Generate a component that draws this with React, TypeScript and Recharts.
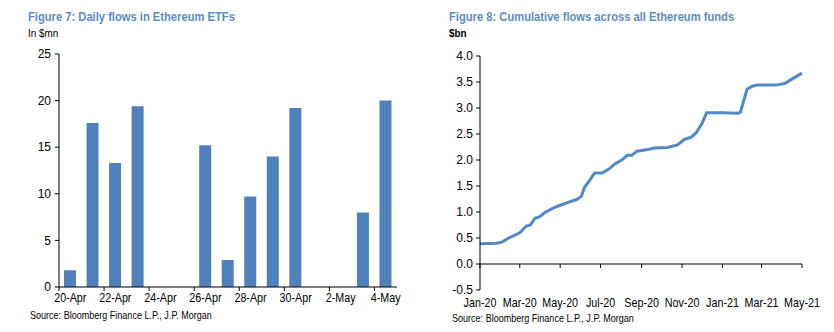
import React from 'react';
import { BarChart, Bar, XAxis, YAxis, LineChart, Line, ReferenceLine } from 'recharts';

// ---------- Figure 7 data ----------
const dailyDates = ['20-Apr', '21-Apr', '22-Apr', '23-Apr', '24-Apr', '25-Apr', '26-Apr', '27-Apr', '28-Apr', '29-Apr', '30-Apr', '1-May', '2-May', '3-May', '4-May'];
const dailyFlows: (number | null)[] = [1.8, 17.6, 13.3, 19.4, null, null, 15.2, 2.9, 9.7, 14.0, 19.2, null, null, 8.0, 20.0];
const dailyTicks = [0, 5, 10, 15, 20, 25];

// ---------- Figure 8 data ----------
const cumDates = [
  '2020-01-01', '2020-01-26', '2020-02-03', '2020-02-15', '2020-03-01', '2020-03-11', '2020-03-17', '2020-03-24', '2020-03-30',
  '2020-04-08', '2020-04-21', '2020-05-01', '2020-05-16', '2020-05-26', '2020-06-02', '2020-06-07', '2020-06-15', '2020-06-22',
  '2020-07-03', '2020-07-13', '2020-07-23', '2020-08-02', '2020-08-10', '2020-08-17', '2020-08-25', '2020-09-10', '2020-09-20',
  '2020-10-10', '2020-10-25', '2020-11-05', '2020-11-15', '2020-11-22', '2020-12-01', '2020-12-08', '2021-01-01', '2021-01-25',
  '2021-01-28', '2021-02-07', '2021-02-15', '2021-02-23', '2021-03-22', '2021-04-05', '2021-04-15', '2021-05-01',
];
const cumFlows = [
  0.39, 0.40, 0.42, 0.51, 0.60, 0.73, 0.75, 0.88, 0.90,
  0.99, 1.08, 1.13, 1.20, 1.24, 1.30, 1.48, 1.62, 1.75,
  1.75, 1.82, 1.93, 2.00, 2.09, 2.09, 2.17, 2.20, 2.23,
  2.24, 2.29, 2.40, 2.44, 2.52, 2.70, 2.91, 2.91, 2.90,
  2.92, 3.36, 3.42, 3.44, 3.44, 3.47, 3.55, 3.67,
];
const cumTickDates = ['2020-01-01', '2020-03-01', '2020-05-01', '2020-07-01', '2020-09-01', '2020-11-01', '2021-01-01', '2021-03-01', '2021-05-01'];
const cumTickLabels = ['Jan-20', 'Mar-20', 'May-20', 'Jul-20', 'Sep-20', 'Nov-20', 'Jan-21', 'Mar-21', 'May-21'];
const cumYTicks = [-0.5, 0, 0.5, 1, 1.5, 2, 2.5, 3, 3.5, 4];

const FONT = "'Liberation Sans Narrow', 'Arial Narrow', 'Liberation Sans', Arial, sans-serif";
const TITLE_COLOR = '#5b8cc3';
const BAR_COLOR = '#4f81bd';
const LINE_COLOR = '#5288c4';
const NARROW = 0.86;

const dailyData = dailyDates.map((d, i) => ({ d, v: dailyFlows[i] }));
const cumData = cumDates.map((d, i) => ({ t: Date.parse(d), v: cumFlows[i] }));
const cumTicks = cumTickDates.map((d) => Date.parse(d));
const cumLabel = (t: number) => cumTickLabels[cumTicks.indexOf(t)] ?? '';

// left chart geometry
const L_W = 420, L_H = 332;
const L_MARGIN = { top: 54, right: 23, bottom: 25, left: 29 };
const L_YW = 30;
const L_PLOT_W = L_W - L_MARGIN.left - L_MARGIN.right - L_YW;

// right chart geometry
const R_W = 414, R_H = 332;
const R_MARGIN = { top: 56, right: 32, bottom: 22, left: 30 };
const R_YW = 30;
const R_XH = 20;
const R_PLOT_H = R_H - R_MARGIN.top - R_MARGIN.bottom - R_XH;
const R_DOMAIN: [number, number] = [-0.5, 4];

const NarrowText = ({ x, y, children }: { x: number; y: number; children: React.ReactNode }) => (
  <g transform={`translate(${x},${y}) scale(${NARROW},1)`}>
    <text x={0} y={0} textAnchor="middle" fontSize={12.5} fontFamily={FONT} fill="#000">
      {children}
    </text>
  </g>
);

const BarTick = (props: any) => {
  const { x, y, payload } = props;
  const half = L_PLOT_W / dailyDates.length / 2;
  return (
    <g>
      <line x1={x - half} x2={x - half} y1={y - 4} y2={y} stroke="#000" strokeWidth={1} />
      <NarrowText x={x} y={y + 11}>{payload.value}</NarrowText>
    </g>
  );
};

const LineTick = (props: any) => {
  const { x, y, payload } = props;
  const plotBottom = R_MARGIN.top + R_PLOT_H;
  const zeroY = plotBottom - ((0 - R_DOMAIN[0]) / (R_DOMAIN[1] - R_DOMAIN[0])) * R_PLOT_H;
  return (
    <g>
      <line x1={x} x2={x} y1={zeroY} y2={zeroY + 4} stroke="#000" strokeWidth={1} />
      <NarrowText x={x} y={y + 11}>{cumLabel(payload.value)}</NarrowText>
    </g>
  );
};

const txt = (extra: React.CSSProperties): React.CSSProperties => ({
  position: 'absolute',
  fontFamily: FONT,
  whiteSpace: 'nowrap',
  lineHeight: 1,
  transform: `scaleX(${NARROW})`,
  transformOrigin: 'left top',
  ...extra,
});

export default function App() {
  return (
    <div style={{ position: 'absolute', left: 0, top: 0, width: 834, height: 332, background: '#fff', overflow: 'hidden' }}>
      {/* Left panel */}
      <div style={{ position: 'absolute', left: 0, top: 0, width: L_W, height: L_H }}>
        <BarChart width={L_W} height={L_H} data={dailyData} margin={L_MARGIN} barCategoryGap={0}>
          <XAxis
            dataKey="d"
            interval={1}
            tick={<BarTick />}
            tickLine={false}
            tickSize={4}
            tickMargin={0}
            height={20}
            axisLine={{ stroke: '#000', strokeWidth: 1 }}
          />
          <YAxis
            domain={[0, 25]}
            ticks={dailyTicks}
            width={L_YW}
            tickSize={4}
            tickMargin={4}
            axisLine={{ stroke: '#000', strokeWidth: 1 }}
            tickLine={{ stroke: '#000' }}
            tick={{ fontSize: 12, fontFamily: FONT, fill: '#000' }}
          />
          <Bar dataKey="v" fill={BAR_COLOR} barSize={12} isAnimationActive={false} />
        </BarChart>
        <div style={txt({ left: 28, top: 10, fontSize: 13, fontWeight: 'bold', color: TITLE_COLOR })}>
          Figure 7: Daily flows in Ethereum ETFs
        </div>
        <div style={txt({ left: 28, top: 28, fontSize: 11.5, color: '#000' })}>In $mn</div>
        <div style={txt({ left: 30, top: 310, fontSize: 10.5, color: '#000' })}>Source: Bloomberg Finance L.P., J.P. Morgan</div>
      </div>

      {/* Right panel */}
      <div style={{ position: 'absolute', left: 420, top: 0, width: R_W, height: R_H }}>
        <LineChart width={R_W} height={R_H} data={cumData} margin={R_MARGIN}>
          <XAxis
            dataKey="t"
            type="number"
            domain={[cumTicks[0], cumTicks[cumTicks.length - 1]]}
            ticks={cumTicks}
            interval={0}
            tick={<LineTick />}
            tickLine={false}
            axisLine={false}
            tickSize={4}
            tickMargin={2}
            height={R_XH}
          />
          <YAxis
            domain={R_DOMAIN}
            ticks={cumYTicks}
            width={R_YW}
            tickSize={4}
            tickMargin={3}
            tickFormatter={(v: number) => v.toFixed(1)}
            axisLine={{ stroke: '#000', strokeWidth: 1 }}
            tickLine={{ stroke: '#000' }}
            tick={{ fontSize: 12, fontFamily: FONT, fill: '#000' }}
          />
          <ReferenceLine y={0} stroke="#000" strokeWidth={1} />
          <Line
            dataKey="v"
            type="linear"
            stroke={LINE_COLOR}
            strokeWidth={3}
            dot={false}
            isAnimationActive={false}
          />
        </LineChart>
        <div style={txt({ left: 29, top: 10, fontSize: 13, fontWeight: 'bold', color: TITLE_COLOR })}>
          Figure 8: Cumulative flows across all Ethereum funds
        </div>
        <div style={txt({ left: 29, top: 28, fontSize: 11.5, fontWeight: 'bold', color: '#000' })}>$bn</div>
        <div style={txt({ left: 32, top: 313, fontSize: 10.5, color: '#000' })}>Source: Bloomberg Finance L.P., J.P. Morgan</div>
      </div>
    </div>
  );
}
